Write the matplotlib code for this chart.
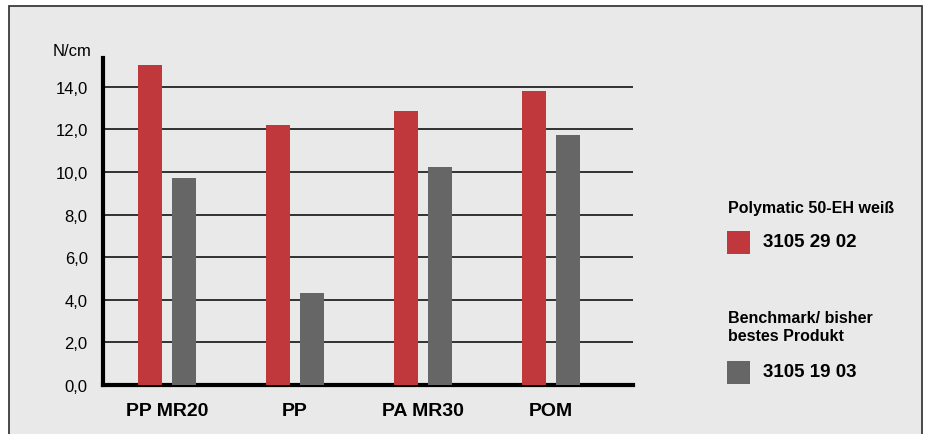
import matplotlib
matplotlib.use("Agg")
import matplotlib.pyplot as plt
import numpy as np
from matplotlib.patches import Rectangle

plt.rcParams['font.family'] = ['Liberation Sans', 'DejaVu Sans']

# Peel strength per substrate
categories = ["PP MR20", "PP", "PA MR30", "POM"]
polymatic = [15.0, 12.2, 12.85, 13.8]
benchmark = [9.7, 4.3, 10.25, 11.75]
yticks = [0, 2, 4, 6, 8, 10, 12, 14]
ytick_labels = ["0,0", "2,0", "4,0", "6,0", "8,0", "10,0", "12,0", "14,0"]

red = "#c0373c"
grey = "#666666"
bg = "#e9e9e9"

W, H = 927, 435
fig = plt.figure(figsize=(W / 100, H / 100), dpi=100)
fig.patch.set_facecolor("white")

# framed grey panel behind everything
fig.patches.append(Rectangle((9 / W, -0.05), (922 - 9) / W, (H - 7) / H + 0.05,
                             transform=fig.transFigure, facecolor=bg,
                             edgecolor="#3a3a3a", linewidth=1.3, zorder=-10))

ax = fig.add_axes([103 / W, (H - 386) / H, 530 / W, (386 - 59) / H])
ax.patch.set_alpha(0)

x = np.arange(len(categories))
w = 0.1875
off = 0.133
ax.bar(x - off, polymatic, width=w, color=red, zorder=3)
ax.bar(x + off, benchmark, width=w, color=grey, zorder=3)

ax.set_xlim(-0.5, 3.64)
ax.set_ylim(0, 15.35)
ax.set_yticks(yticks)
ax.set_yticklabels(ytick_labels, fontsize=12)
ax.set_xticks(x)
ax.set_xticklabels(categories, fontsize=14, fontweight="bold")
ax.tick_params(axis="y", length=0, pad=11)
ax.tick_params(axis="x", length=0, pad=12)

for y in yticks[1:]:
    ax.axhline(y, color="black", linewidth=1.1, zorder=1)

for s in ["top", "right"]:
    ax.spines[s].set_visible(False)
ax.spines["left"].set_linewidth(3)
ax.spines["bottom"].set_linewidth(3)

fig.text(53 / W, 1 - 52 / H, "N/cm", fontsize=12, va="center", ha="left")

# legend drawn by hand
fig.text(728 / W, 1 - 209 / H, "Polymatic 50-EH weiß", fontsize=11.5,
         fontweight="bold", va="center", ha="left")
fig.patches.append(Rectangle((727 / W, 1 - 255 / H), 23 / W, 23 / H,
                             transform=fig.transFigure, facecolor=red, zorder=2))
fig.text(763 / W, 1 - 243 / H, "3105 29 02", fontsize=13.5,
         fontweight="bold", va="center", ha="left")

fig.text(728 / W, 1 - 328 / H, "Benchmark/ bisher\nbestes Produkt", fontsize=11.5,
         fontweight="bold", va="center", ha="left", linespacing=1.25)
fig.patches.append(Rectangle((727 / W, 1 - 385 / H), 23 / W, 23 / H,
                             transform=fig.transFigure, facecolor=grey, zorder=2))
fig.text(763 / W, 1 - 373 / H, "3105 19 03", fontsize=13.5,
         fontweight="bold", va="center", ha="left")

fig.savefig("out.png", dpi=100, facecolor=fig.get_facecolor())
